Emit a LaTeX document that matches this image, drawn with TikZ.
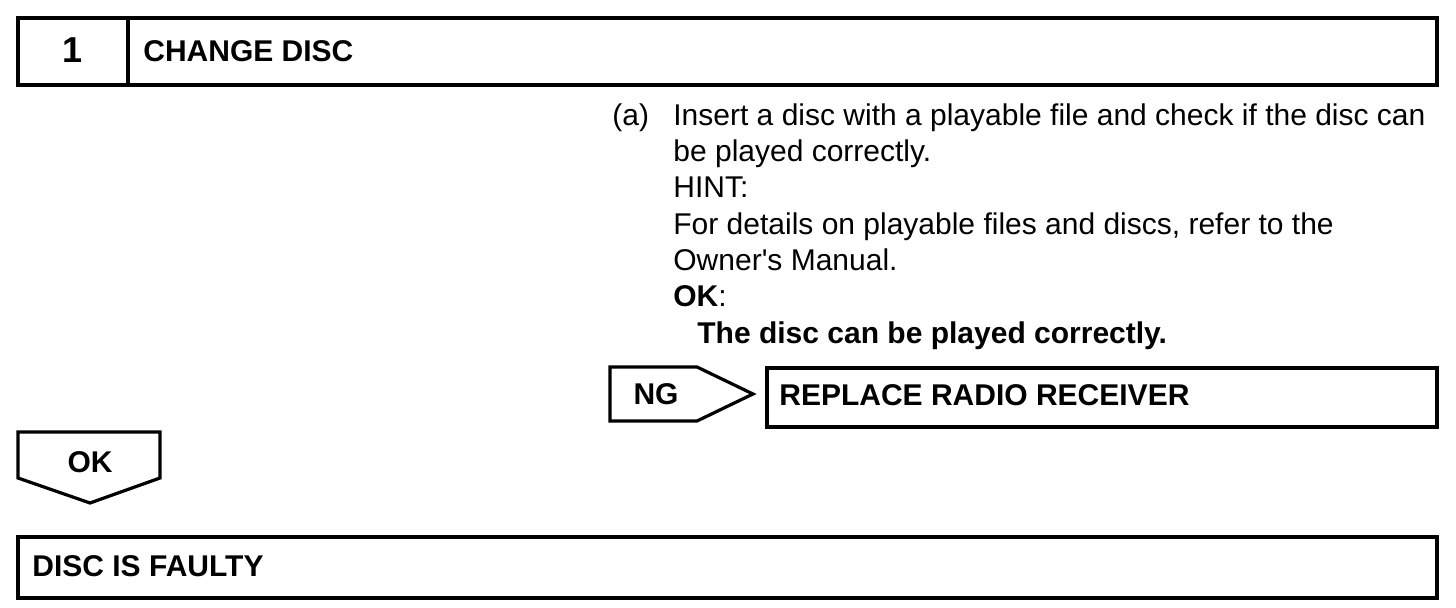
\documentclass[tikz,border=0pt]{standalone}
\usepackage{fontspec}
\setmainfont{Liberation Sans}[Ligatures=TeXOff]
\usetikzlibrary{positioning,calc}
\begin{document}
\begin{tikzpicture}[x=0.5pt,y=-0.5pt]
    \tikzstyle{every node}=[inner sep=0,font=\fontsize{15}{18}\selectfont]
    \tikzstyle{frame}=[draw,line width=1.6pt,line join=miter]
    \tikzstyle{note}=[anchor=base west]
    \tikzstyle{head}=[font=\fontsize{15}{18}\selectfont\bfseries]
    \useasboundingbox (0,0) rectangle (1456,608);
    {
        % step header
        \draw[frame] (18,18) rectangle (1437,85);
        \draw[frame] (128,18) -- (128,85);
        \node[head,font=\fontsize{18}{18}\selectfont\bfseries] (num) at (73,50) {1};
        \node[head,anchor=west] (title) at (143,51) {CHANGE DISC};

        % procedure text
        \node[note] (item) at (612,126) {(a)};
        \node[note] (l1) at (673,126) {Insert a disc with a playable file and check if the disc can};
        \node[note] (l2) at (673,162) {be played correctly.};
        \node[note] (l3) at (673,198) {HINT:};
        \node[note] (l4) at (673,235) {For details on playable files and discs, refer to the};
        \node[note] (l5) at (673,271) {Owner's Manual.};
        \node[note] (l6) at (673,307) {\textbf{OK}:};
        \node[note,head] (l7) at (697,344) {The disc can be played correctly.};

        % NG branch
        \draw[frame] (610,367) -- (697,367) -- (753,394) -- (697,421) -- (610,421) -- cycle;
        \node[head] (ng) at (656,394) {NG};
        \draw[frame] (767,368) rectangle (1437,427);
        \node[head,anchor=west] (replace) at (779,395) {REPLACE RADIO RECEIVER};

        % OK branch
        \draw[frame] (18,432) -- (160,432) -- (160,478) -- (90,503) -- (18,478) -- cycle;
        \node[head] (ok) at (90,462) {OK};
        \draw[frame] (18,537) rectangle (1437,598);
        \node[head,anchor=west] (faulty) at (32,566) {DISC IS FAULTY};
    }
\end{tikzpicture}
\end{document}
